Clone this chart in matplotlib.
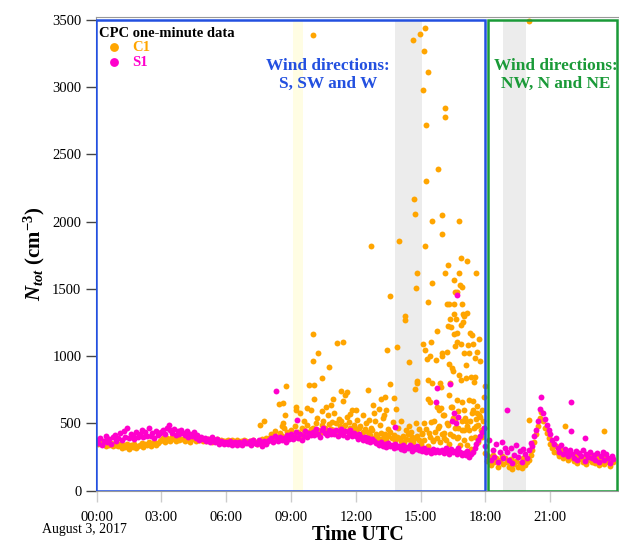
import matplotlib.pyplot as plt
import matplotlib.patches as mpatches
import numpy as np

plt.rcParams['font.family'] = 'Liberation Serif'
plt.rcParams['mathtext.fontset'] = 'custom'
plt.rcParams['mathtext.rm'] = 'Liberation Serif:bold'
plt.rcParams['mathtext.it'] = 'Liberation Serif:italic:bold'
plt.rcParams['mathtext.bf'] = 'Liberation Serif:bold'

# S1 five-minute readings, one row per hour (cm-3)
s1_rows = [
    [380, 352, 395, 340, 372, 410, 365, 388, 345, 400, 418, 372],
    [395, 430, 378, 445, 402, 468, 390, 422, 410, 385, 440, 398],
    [425, 452, 398, 437, 410, 470, 405, 428, 392, 446, 415, 432],
    [438, 455, 420, 470, 492, 448, 430, 462, 418, 445, 425, 452],
    [430, 412, 445, 398, 425, 405, 438, 392, 415, 380, 402, 388],
    [395, 372, 388, 360, 402, 378, 365, 385, 350, 372, 360, 345],
    [360, 348, 372, 340, 355, 365, 338, 362, 350, 342, 370, 355],
    [352, 368, 340, 375, 358, 345, 380, 362, 335, 372, 350, 368],
    [375, 392, 360, 410, 385, 368, 402, 378, 395, 360, 418, 385],
    [420, 388, 402, 440, 395, 425, 378, 410, 445, 400, 432, 415],
    [440, 412, 460, 425, 398, 448, 470, 430, 415, 455, 420, 442],
    [425, 450, 405, 438, 462, 418, 445, 400, 432, 455, 410, 428],
    [410, 385, 420, 398, 375, 402, 368, 390, 360, 385, 372, 355],
    [352, 338, 365, 330, 348, 322, 358, 335, 342, 318, 350, 328],
    [330, 312, 342, 305, 325, 318, 338, 298, 322, 310, 332, 302],
    [310, 292, 318, 285, 305, 298, 280, 312, 290, 302, 286, 296],
    [305, 282, 320, 295, 270, 310, 288, 298, 275, 315, 290, 268],
    [280, 262, 295, 250, 275, 290, 320, 345, 378, 410, 440, 465],
    [330, 268, 380, 225, 305, 250, 345, 210, 290, 360, 240, 315],
    [285, 230, 320, 205, 265, 340, 250, 295, 215, 310, 270, 245],
    [300, 355, 330, 410, 455, 520, 610, 700, 580, 530, 490, 455],
    [420, 380, 350, 395, 320, 290, 340, 270, 310, 285, 260, 300],
    [270, 245, 295, 230, 280, 258, 305, 220, 275, 250, 290, 240],
    [265, 230, 280, 215, 255, 290, 225, 270, 240, 205, 260, 235],
]

# C1 five-minute readings, one row per hour (cm-3)
c1_rows = [
    [370, 345, 388, 352, 360, 335, 372, 340, 355, 330, 348, 338],
    [330, 345, 318, 340, 322, 350, 310, 338, 325, 345, 315, 332],
    [342, 355, 328, 350, 338, 360, 332, 348, 365, 340, 352, 370],
    [375, 390, 362, 395, 380, 370, 402, 385, 368, 392, 378, 388],
    [385, 372, 395, 378, 365, 390, 382, 370, 398, 375, 388, 372],
    [380, 368, 385, 372, 365, 378, 370, 382, 362, 375, 368, 372],
    [368, 375, 360, 380, 372, 365, 378, 362, 370, 358, 375, 368],
    [362, 370, 355, 378, 365, 350, 372, 360, 382, 368, 395, 375],
    [390, 420, 375, 445, 400, 385, 430, 410, 465, 395, 440, 418],
    [450, 410, 480, 425, 440, 395, 470, 455, 420, 490, 435, 460],
    [470, 440, 500, 455, 430, 485, 520, 465, 445, 495, 460, 510],
    [455, 500, 440, 480, 520, 460, 490, 445, 510, 470, 435, 485],
    [450, 420, 470, 410, 440, 460, 400, 435, 415, 450, 395, 425],
    [410, 385, 430, 395, 420, 375, 405, 440, 390, 415, 380, 400],
    [395, 370, 410, 360, 385, 420, 375, 400, 365, 390, 410, 380],
    [350, 420, 380, 460, 330, 400, 510, 370, 440, 390, 480, 360],
    [420, 560, 380, 490, 350, 620, 410, 530, 390, 470, 340, 450],
    [380, 520, 340, 450, 310, 600, 400, 480, 360, 550, 420, 470],
    [280, 220, 250, 190, 265, 210, 240, 175, 230, 260, 200, 245],
    [210, 175, 235, 160, 195, 220, 180, 205, 170, 240, 190, 215],
    [230, 265, 300, 360, 420, 480, 540, 585, 520, 470, 430, 390],
    [350, 320, 290, 330, 280, 260, 300, 245, 275, 255, 230, 265],
    [245, 220, 260, 205, 235, 250, 215, 240, 200, 230, 255, 210],
    [230, 205, 245, 190, 220, 260, 200, 235, 215, 185, 240, 210],
]

# isolated C1 peaks (hour, cm-3)
c1_peak_hours = [
    10.01, 12.70, 13.56, 14.00, 14.63, 14.68, 14.72, 14.77, 14.81, 14.97,
    15.11, 15.14, 15.19, 15.21, 15.23, 15.26, 15.32, 15.32, 15.51, 15.54,
    15.80, 15.97, 16.00, 16.11, 16.13, 16.14, 16.23, 16.26, 16.56, 16.57,
    16.69, 16.56, 16.77, 16.79, 16.82, 16.87, 16.90, 16.93, 17.14, 17.55, 20.00,
    10.03, 10.23, 11.13, 11.39, 13.44, 13.90, 14.27, 14.27, 15.12, 15.20,
    15.49, 15.77, 15.42, 16.00, 16.20, 16.32, 16.53, 16.96, 17.16, 16.34,
    16.62, 16.99, 16.28, 16.40, 16.88, 16.96, 16.53, 16.67, 17.28, 17.36,
    16.67, 16.87, 16.57, 17.21, 17.42, 17.71, 16.99, 17.22, 17.59,
    10.01, 10.75, 10.43, 9.81, 10.06, 10.07, 9.75, 9.23, 9.23, 11.30,
    11.59, 11.48, 10.95, 11.42, 10.85, 10.42, 12.56, 14.47, 14.83, 14.83,
    14.74, 13.58, 13.18, 13.36, 13.75, 12.79, 13.08, 13.38, 13.86, 11.83,
    12.59, 12.33, 12.04, 11.73, 14.47, 14.77, 15.15, 15.29, 15.69, 15.97,
    16.30, 16.46, 16.51, 17.53, 17.75, 17.10, 16.79, 17.34, 17.10, 17.51,
    16.85, 17.48, 16.36, 15.88, 15.54, 15.36, 15.93, 16.33, 15.34, 15.43,
    15.75, 15.84, 15.93, 16.67, 16.91, 17.24, 17.44, 16.99, 17.36, 17.59,
    17.59, 17.82, 8.75, 8.45, 8.64, 8.61, 8.70, 7.75, 7.56, 8.60,
    15.60, 15.80, 16.05, 16.10, 16.20, 16.45, 16.50, 16.60, 16.75, 16.90,
    17.00, 17.05, 17.15, 17.30, 17.45, 17.55, 17.65, 17.70, 17.80, 17.90,
    15.40, 15.55, 16.08, 16.38, 16.72, 17.33, 17.85, 17.95, 17.97,
    11.90, 12.20, 12.45, 12.70, 12.90, 13.10, 13.25, 13.50, 13.70, 13.95,
    14.10, 14.30, 14.55, 14.90, 15.05, 11.60, 11.20, 10.70, 10.20, 9.60,
    9.40, 9.90, 10.60, 11.00, 12.00, 12.85, 13.30, 20.01, 23.50, 21.70,
]
c1_peak_values = [
    3386, 1817, 1450, 1854, 3351, 2170, 2058, 1507, 1619, 3398,
    2976, 3266, 1817, 3438, 2718, 2306, 3110, 1400, 2003, 1541,
    2393, 1909, 2053, 2775, 1616, 2844, 1385, 1681, 1569, 1474,
    1474, 1385, 2008, 1621, 1527, 1730, 1517, 1385, 1710, 1619, 3490,
    1162, 1023, 1102, 1105, 1043, 1070, 1296, 1266, 1090, 1048,
    1107, 1184, 1003, 1023, 1033, 1385, 1316, 1311, 1325, 1276,
    1276, 1296, 1226, 1217, 1231, 1256, 1164, 1172, 1172, 1159,
    1109, 1090, 1077, 1085, 1090, 1127, 1023, 1023, 1035,
    963, 923, 837, 785, 789, 685, 618, 625, 601, 745,
    733, 713, 681, 666, 640, 593, 750, 958, 815, 800,
    755, 794, 683, 700, 692, 636, 606, 601, 606, 601,
    526, 564, 526, 571, 482, 506, 506, 978, 973, 998,
    943, 911, 893, 986, 961, 934, 861, 849, 837, 844,
    824, 812, 800, 800, 800, 824, 770, 713, 683, 663,
    621, 601, 613, 675, 663, 675, 668, 601, 576, 576,
    628, 601, 782, 646, 651, 506, 564, 517, 492, 480,
    520, 470, 560, 430, 500, 620, 540, 470, 590, 520,
    450, 540, 480, 520, 470, 530, 490, 560, 450, 520,
    430, 380, 390, 420, 400, 390, 400, 700, 780,
    470, 480, 500, 470, 520, 490, 540, 460, 510, 470,
    520, 450, 440, 460, 430, 550, 530, 560, 540, 520,
    580, 600, 620, 580, 600, 580, 560, 526, 447, 480,
]

# isolated S1 peaks (hour, cm-3)
s1_peak_hours = [8.29, 9.29, 13.81, 15.71, 15.77, 16.36, 16.69, 16.74,
                 16.45, 16.55, 16.62, 19.00, 21.96, 21.95, 22.60]
s1_peak_values = [745, 526, 476, 658, 767, 797, 1452, 546,
                  520, 580, 500, 601, 663, 445, 390]

tick_hours = [0, 3, 6, 9, 12, 15, 18, 21]
tick_labels = ['00:00', '03:00', '06:00', '09:00', '12:00', '15:00', '18:00', '21:00']

c1_color = '#ffa500'
s1_color = '#ff00cc'
blue = '#2350e0'
green = '#1a9a38'

t5 = np.arange(24 * 12) / 12.0
s1 = np.array(s1_rows).ravel()
c1 = np.array(c1_rows).ravel()

fig = plt.figure(figsize=(6.19, 5.44), dpi=100)
ax = fig.add_axes([96 / 619, 1 - 491.4 / 544, 523 / 619, (491.4 - 16.6) / 544])

# shaded periods
ax.fill_betweenx([0, 3500], 9.07, 9.56, color='#fffde3', lw=0, zorder=0)
ax.fill_betweenx([0, 3500], 13.81, 15.06, color='#ececec', lw=0, zorder=0)
ax.fill_betweenx([0, 3500], 18.81, 19.89, color='#ececec', lw=0, zorder=0)

kw = dict(s=18, linewidths=0, zorder=3)
ax.scatter(t5, c1, color=c1_color, label='C1', **kw)
ax.scatter(c1_peak_hours, c1_peak_values, color=c1_color, **kw)
ax.scatter(t5, s1, color=s1_color, label='S1', **kw)
ax.scatter(s1_peak_hours, s1_peak_values, color=s1_color, **kw)

# wind sectors
ax.add_patch(mpatches.Rectangle((-0.02, 0), 17.98, 3500, fill=False, ec=blue, lw=1.8, zorder=4))
ax.add_patch(mpatches.Rectangle((18.12, 0), 5.95, 3500, fill=False, ec=green, lw=1.8, zorder=4))
ax.text(10.71, 3090, 'Wind directions:\nS, SW and W', color=blue, fontsize=12.4,
        fontweight='bold', ha='center', va='center', linespacing=1.2, zorder=5)
ax.text(21.27, 3090, 'Wind directions:\nNW, N and NE', color=green, fontsize=12.4,
        fontweight='bold', ha='center', va='center', linespacing=1.2, zorder=5)

ax.set_xlim(-0.03, 24.18)
ax.set_ylim(-5, 3525)
ax.set_yticks(np.arange(0, 3501, 500))
ax.set_xticks(tick_hours)
ax.set_xticklabels(tick_labels)
ax.tick_params(axis='y', direction='out', length=7, width=1, color='#444444', labelsize=10.5)
ax.tick_params(axis='x', direction='out', length=8, width=1, color='#cccccc', labelsize=10.5, pad=6)
for sp in ax.spines.values():
    sp.set_color('#999999')

ax.set_xlabel('Time UTC', fontsize=14.5, fontweight='bold', labelpad=1)
ax.set_ylabel(r'$N_{tot}\ (\mathrm{cm}^{-3})$', fontsize=15, labelpad=4)
fig.text(84 / 619, 1 - 529 / 544, 'August 3, 2017', fontsize=10, ha='center', va='center')

leg = ax.legend(title='CPC one-minute data', loc='upper left', bbox_to_anchor=(0.0, 0.985),
                frameon=False, alignment='left', markerscale=1.5, handletextpad=0.3,
                borderaxespad=0.05, borderpad=0.15, labelspacing=0.1, handlelength=2.0,
                prop={'weight': 'bold', 'size': 10.5},
                title_fontproperties={'weight': 'bold', 'size': 10.5})
for txt, col in zip(leg.get_texts(), [c1_color, s1_color]):
    txt.set_color(col)

fig.savefig('out.png', dpi=100)
